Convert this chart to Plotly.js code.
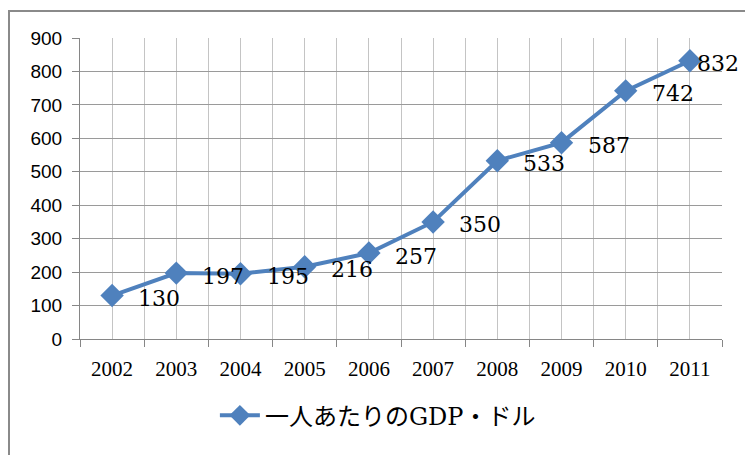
<!DOCTYPE html>
<html>
<head>
<meta charset="utf-8">
<script src="https://cdn.plot.ly/plotly-3.0.1.min.js"></script>
<style>
  html, body { margin: 0; padding: 0; background: #fff; overflow: hidden; }
  #wrap { position: relative; width: 745px; height: 455px; }
  #frame { position: absolute; left: 8px; top: 10px; width: 760px; height: 470px;
           border: 2px solid #8a8a8a; box-sizing: border-box; pointer-events: none; }
  #chart { position: absolute; left: 0; top: 0; width: 745px; height: 455px; }
</style>
</head>
<body>
<div id="wrap">
  <div id="chart"></div>
  <div id="frame"></div>
</div>
<script>
const years = ['2002','2003','2004','2005','2006','2007','2008','2009','2010','2011'];
const gdpPerCapita = [130, 197, 195, 216, 257, 350, 533, 587, 742, 832];
const seriesName = '一人あたりのGDP・ドル';

const idx = years.map((_, i) => i);
const blue = '#4f81bd';

const trace = {
  x: idx,
  y: gdpPerCapita,
  type: 'scatter',
  mode: 'lines+markers',
  name: seriesName,
  line: { color: blue, width: 4 },
  marker: { symbol: 'diamond', size: 18, color: blue },
  xaxis: 'x',
  yaxis: 'y',
  hoverinfo: 'skip'
};

const annotations = gdpPerCapita.map((v, i) => ({
  x: i, y: v, xref: 'x', yref: 'y',
  text: String(v), showarrow: false,
  xanchor: 'left', yanchor: 'middle',
  xshift: i === gdpPerCapita.length - 1 ? 5 : 24,
  yshift: -3,
  font: { family: 'DejaVu Serif, Liberation Serif, serif', size: 22, color: '#000' }
}));

const layout = {
  width: 745, height: 455,
  margin: { l: 80, r: 23, t: 38, b: 116 },
  paper_bgcolor: '#fff', plot_bgcolor: '#fff',
  showlegend: true,
  legend: {
    orientation: 'h', x: 0.464, xanchor: 'center', y: -0.255, yanchor: 'middle',
    font: { family: 'DejaVu Serif, Noto Sans CJK JP, serif', size: 24, color: '#000' },
    itemwidth: 40
  },
  xaxis: {
    range: [-0.5, 9.5], tickmode: 'linear', tick0: -0.5, dtick: 1,
    ticks: 'outside', ticklen: 7, tickcolor: '#868686', tickwidth: 1,
    showticklabels: false,
    showgrid: true, gridcolor: '#c4c4c4', gridwidth: 1,
    minor: { tick0: -0.5, dtick: 0.5, showgrid: true, gridcolor: '#c4c4c4', gridwidth: 1, ticks: '' },
    showline: true, linecolor: '#868686', linewidth: 1,
    zeroline: false, fixedrange: true
  },
  xaxis2: {
    overlaying: 'x', anchor: 'y', side: 'bottom',
    range: [-0.5, 9.5], tickmode: 'array', tickvals: idx, ticktext: years,
    ticks: '', showgrid: false, showline: false, zeroline: false,
    ticklabelstandoff: 15,
    tickfont: { family: 'Liberation Serif, DejaVu Serif, serif', size: 21, color: '#000' }
  },
  yaxis: {
    range: [0, 900], tickmode: 'linear', tick0: 0, dtick: 100,
    ticks: 'outside', ticklen: 7, tickcolor: '#868686',
    showgrid: true, gridcolor: '#9a9a9a', gridwidth: 1,
    showline: true, linecolor: '#868686', linewidth: 1,
    zeroline: false, ticklabelstandoff: 6,
    tickfont: { family: 'Liberation Sans, Arial, sans-serif', size: 19, color: '#000' }
  },
  annotations: annotations
};

const helper = { x: idx, y: gdpPerCapita, xaxis: 'x2', yaxis: 'y', type: 'scatter', mode: 'none', showlegend: false, hoverinfo: 'skip' };

Plotly.newPlot('chart', [helper, trace], layout, { staticPlot: true, displayModeBar: false });
</script>
</body>
</html>
